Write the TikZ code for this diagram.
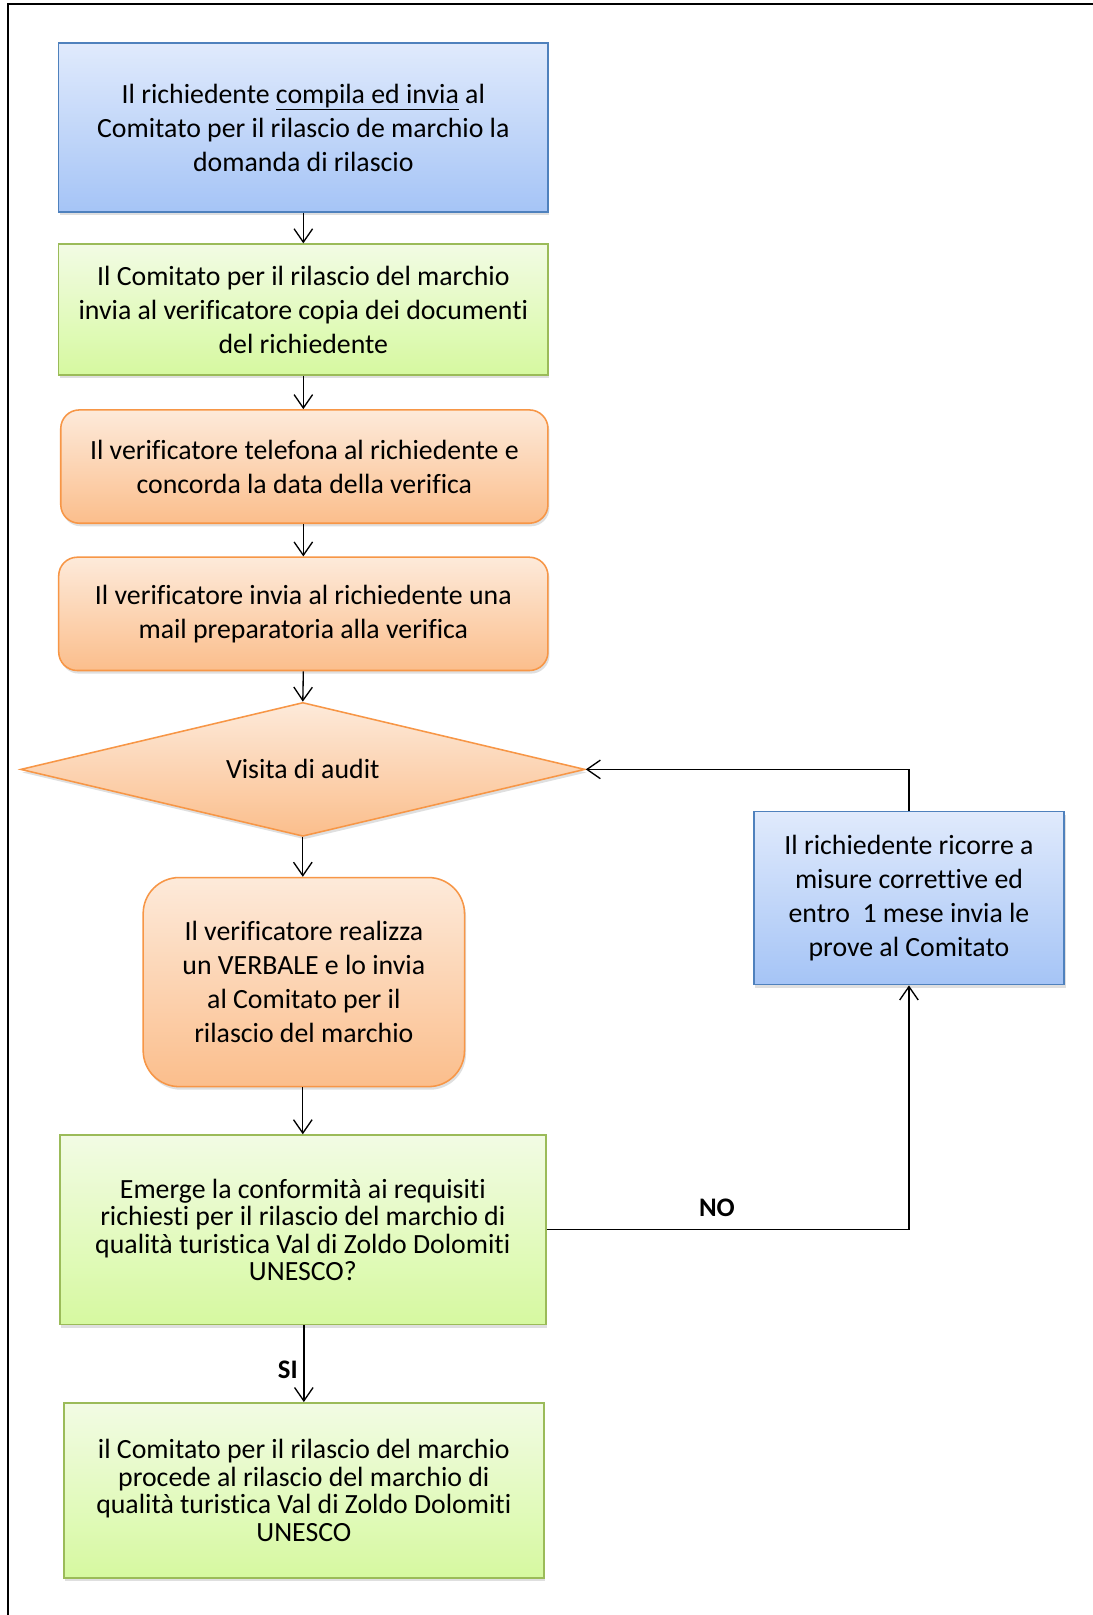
\documentclass[tikz,border=0pt]{standalone}
\usepackage{fontspec}
\setmainfont{Carlito}[Ligatures={NoCommon}]
\usetikzlibrary{shapes.geometric,arrows.meta,shadows}
\definecolor{bluetop}{RGB}{224,234,252}
\definecolor{bluebot}{RGB}{165,196,246}
\definecolor{blueborder}{RGB}{79,129,189}
\definecolor{greentop}{RGB}{242,251,228}
\definecolor{greenbot}{RGB}{214,249,160}
\definecolor{greenborder}{RGB}{155,187,89}
\definecolor{orangetop}{RGB}{253,234,218}
\definecolor{orangebot}{RGB}{251,190,140}
\definecolor{orangeborder}{RGB}{247,150,70}
\begin{document}
\begin{tikzpicture}[x=1pt,y=-1pt,
  base/.style={draw, line width=1.5pt, align=center, inner sep=0pt,
    font=\fontsize{27}{33}\selectfont,
    drop shadow={shadow xshift=1.5pt,shadow yshift=-3pt,opacity=0.25}},
  bluebox/.style={base, draw=blueborder, top color=bluetop, bottom color=bluebot},
  greenbox/.style={base, draw=greenborder, top color=greentop, bottom color=greenbot},
  orangebox/.style={base, draw=orangeborder, top color=orangetop, bottom color=orangebot},
  tight/.style={font=\fontsize{27}{26.7}\selectfont},
  conn/.style={line width=1.3pt, -{Straight Barb[length=13pt,width=18pt]}},
  lbl/.style={font=\bfseries\fontsize{26}{30}\selectfont}
]
\fill[white] (0,0) rectangle (1061,1568);
\useasboundingbox (0,0) rectangle (1061,1568);
\draw[line width=2pt] (1061,4) -- (8,4) -- (8,1568);

\node[bluebox, minimum width=475pt, minimum height=164pt] (b1) at (294.5,124)
  {Il richiedente \underline{compila ed invia} al\\Comitato per il rilascio de marchio la\\domanda di rilascio};
\node[greenbox, minimum width=475pt, minimum height=127pt] (b2) at (294.5,300.5)
  {Il Comitato per il rilascio del marchio\\invia al verificatore copia dei documenti\\del richiedente};
\node[orangebox, rounded corners=18pt, minimum width=473pt, minimum height=110pt] (b3) at (295.5,453)
  {Il verificatore telefona al richiedente e\\concorda la data della verifica};
\node[orangebox, rounded corners=18pt, minimum width=475pt, minimum height=110pt] (b4) at (294.5,596)
  {Il verificatore invia al richiedente una\\mail preparatoria alla verifica};
\node[orangebox, diamond, shape aspect=4.215, minimum width=548pt, minimum height=130pt] (d) at (294,747)
  {Visita di audit};
\node[orangebox, rounded corners=35pt, minimum width=312pt, minimum height=203pt] (b5) at (295,953.5)
  {Il verificatore realizza\\un VERBALE e lo invia\\al Comitato per il\\rilascio del marchio};
\node[greenbox, tight, minimum width=472pt, minimum height=184pt] (b6) at (294,1194)
  {Emerge la conformità ai requisiti\\richiesti per il rilascio del marchio di\\qualità turistica Val di Zoldo Dolomiti\\UNESCO?};
\node[greenbox, tight, minimum width=466pt, minimum height=170pt] (b7) at (295,1447)
  {il Comitato per il rilascio del marchio\\procede al rilascio del marchio di\\qualità turistica Val di Zoldo Dolomiti\\UNESCO};
\node[bluebox, minimum width=301pt, minimum height=168pt] (b8) at (882.5,872)
  {Il richiedente ricorre a\\misure correttive ed\\entro\ \ 1 mese invia le\\prove al Comitato};

\draw[conn] (b1.south) -- (b2.north);
\draw[conn] (b2.south) -- (b3.north -| b2.south);
\draw[conn] (b3.south -| b2.south) -- (b4.north -| b2.south);
\draw[conn] (b4.south) -- (d.north);
\draw[conn] (d.south) -- (b5.north -| d.south);
\draw[conn] (b5.south -| d.south) -- (b6.north -| d.south);
\draw[conn] (b6.south -| b7.north) -- node[lbl, pos=0.58, left=2pt] (si) {SI} (b7.north);
\draw[conn] (b6.east) -| node[lbl, pos=0.235, above=9pt] (no) {NO} (b8.south);
\draw[conn] (b8.north) |- (d.east);
\end{tikzpicture}
\end{document}
